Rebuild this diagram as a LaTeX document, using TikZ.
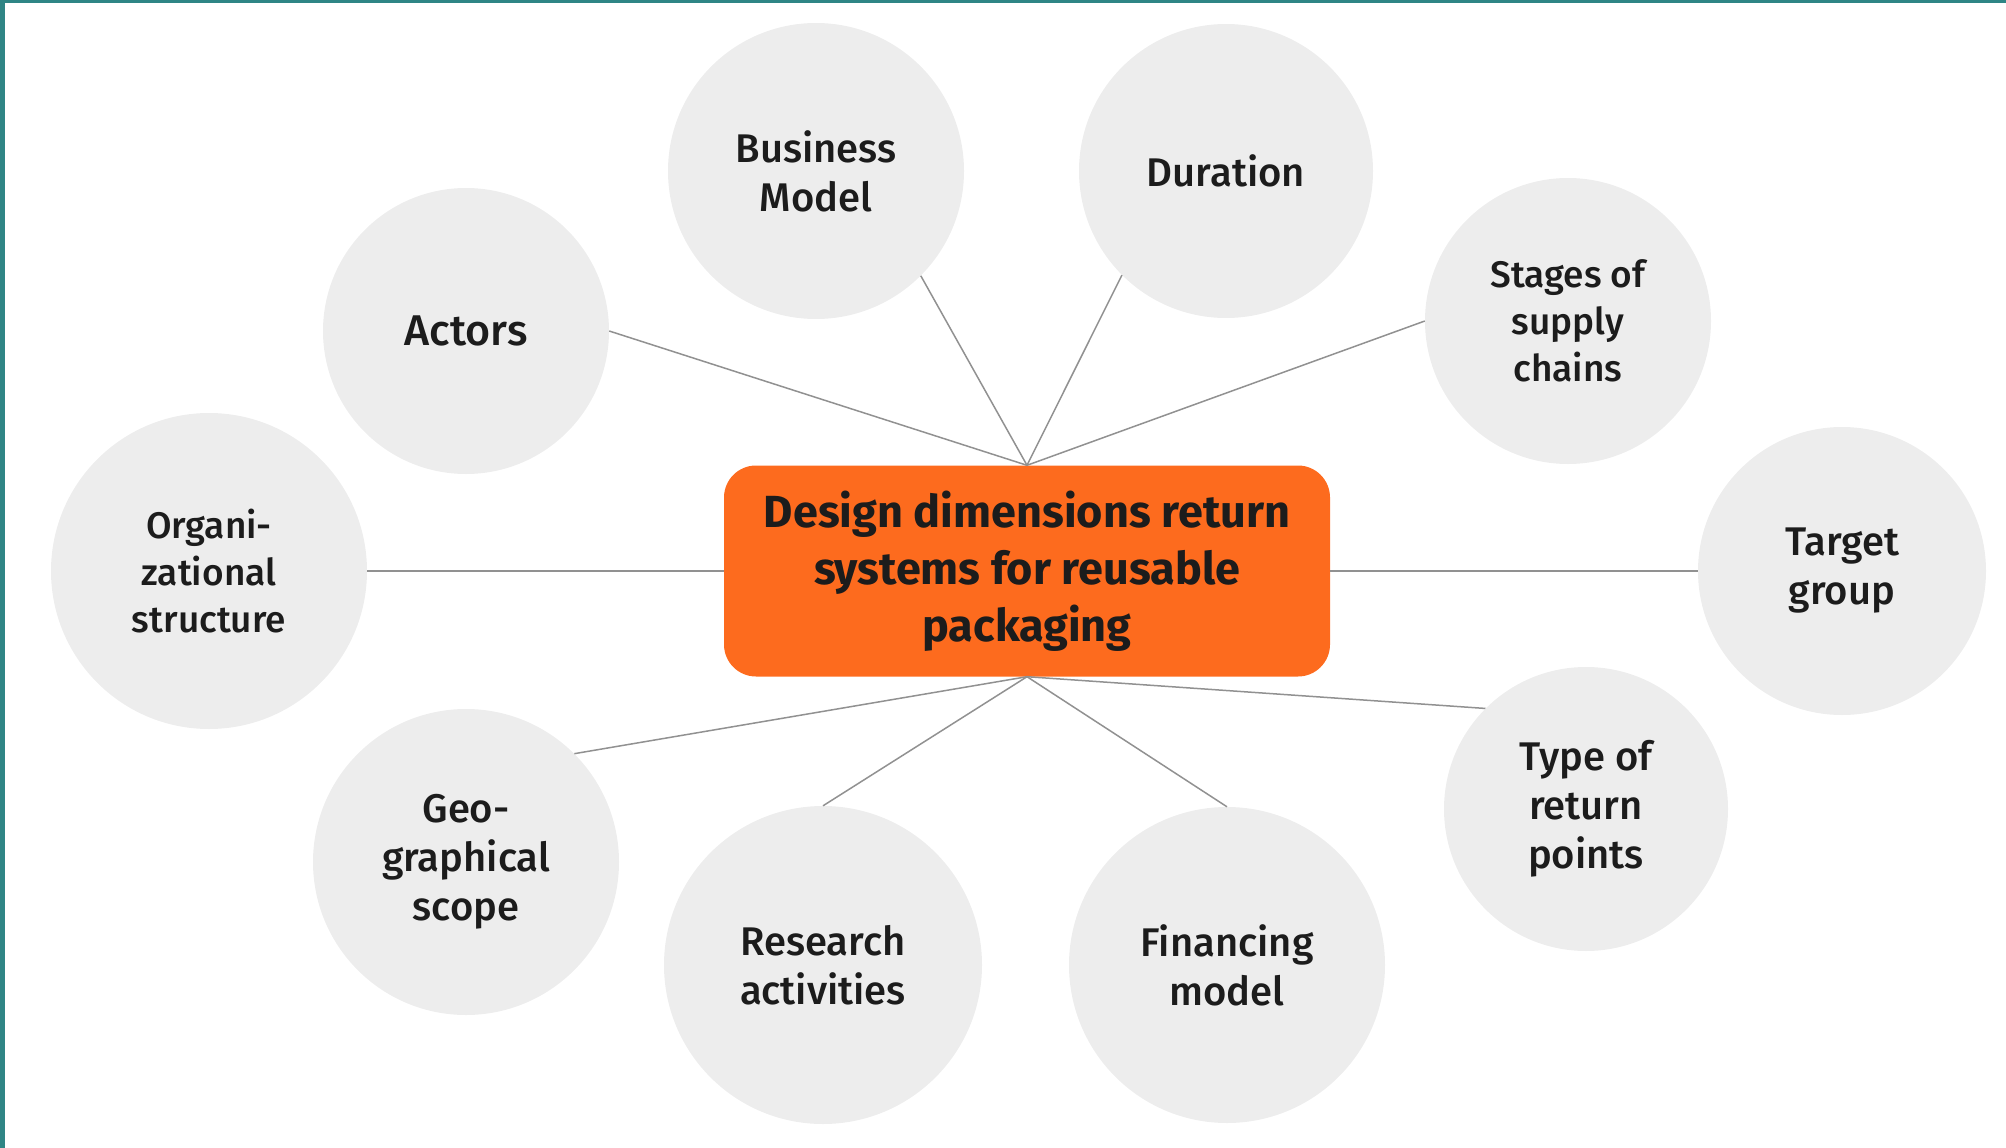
\documentclass[tikz,border=0pt]{standalone}
\usepackage{fontspec}
\setmainfont{Fira Sans}[UprightFont=* Medium, BoldFont=* Bold]
\usepackage{tikz}

\definecolor{framecol}{RGB}{47,133,133}
\definecolor{hubcol}{RGB}{253,107,30}
\definecolor{dimcol}{RGB}{237,237,237}
\definecolor{linkcol}{RGB}{145,145,145}
\definecolor{txtcol}{RGB}{28,28,28}

\begin{document}
\begin{tikzpicture}[x=1pt,y=-1pt,
        hub/.style={rectangle, rounded corners=32pt, fill=hubcol, text=txtcol, align=center,
            minimum width=606pt, minimum height=211pt, inner sep=0pt,
            font=\bfseries\fontsize{45}{57}\selectfont},
        dim/.style={circle, fill=dimcol, text=txtcol, align=center, inner sep=0pt,
            font=\fontsize{40}{49}\selectfont},
        dimsmall/.style={dim, font=\fontsize{37}{47}\selectfont},
        link/.style={draw=linkcol, line width=1.5pt}]
        \useasboundingbox (0,0) rectangle (2006,1148);
        % Frame:
        % a thin band along the top and the left edge
        \fill [framecol] (0,0) rectangle (2006,3);
        \fill [framecol] (0,0) rectangle (5,1148);

        % Centre:
        \node [hub] (hub) at (1027,571) {Design dimensions return\\systems for reusable\\packaging};

        % Dimensions:
        % circles placed at fixed coordinates round the centre
        \node [dim, minimum size=296pt] (busmodel) at (816,171)  {Business\\Model};
        \node [dim, minimum size=294pt] (duration) at (1226,171) {Duration};
        \node [dim, minimum size=286pt, font=\fontsize{43}{50}\selectfont] (actors) at (466,331) {Actors};
        \node [dimsmall, minimum size=286pt] (stages) at (1568,321) {Stages of\\supply\\chains};
        \node [dimsmall, minimum size=316pt] (orga) at (209,571) {Organi-\\zational\\structure};
        \node [dim, minimum size=288pt] (target) at (1842,571) {Target\\group};
        \node [dim, minimum size=306pt] (geo) at (466,862) {Geo-\\graphical\\scope};
        \node [dim, minimum size=318pt] (research) at (823,965) {Research\\activities};
        \node [dim, minimum size=316pt] (financing) at (1227,965) {Financing\\model};
        \node [dim, minimum size=284pt] (returns) at (1586,809) {Type of\\return\\points};

        % Links:
        % upper ones meet at the top of the centre, lower ones at its bottom
        \foreach \d/\a in {actors/east, busmodel/south east, duration/south west, stages/west}{%
            \draw [link] (hub.north) -- (\d.\a);
        }
        \foreach \d/\a in {geo/north east, research/north, financing/north, returns/north west}{%
            \draw [link] (hub.south) -- (\d.\a);
        }
        \draw [link] (hub.west) -- (orga.east);
        \draw [link] (hub.east) -- (target.west);
    \end{tikzpicture}
\end{document}
